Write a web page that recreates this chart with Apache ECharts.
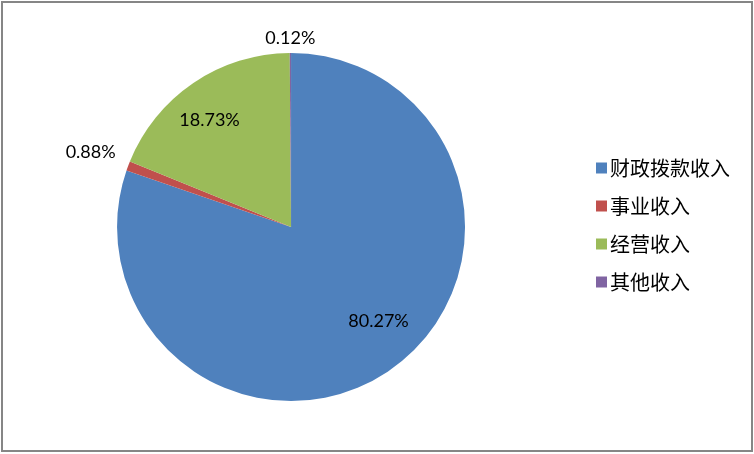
<!DOCTYPE html>
<html>
<head>
<meta charset="utf-8">
<script src="https://cdn.jsdelivr.net/npm/echarts@6/dist/echarts.min.js"></script>
<style>
html,body{margin:0;padding:0;background:#fff;}
#chart{position:absolute;left:0;top:0;width:754px;height:454px;}
#frame{position:absolute;left:1px;top:1px;width:748px;height:447px;border:2px solid #868686;pointer-events:none;}
</style>
</head>
<body>
<div id="chart"></div>
<div id="frame"></div>
<script>
const categories = ['财政拨款收入', '事业收入', '经营收入', '其他收入'];
const values = [80.27, 0.88, 18.73, 0.12];
const labels = ['80.27%', '0.88%', '18.73%', '0.12%'];
const colors = ['#4F81BD', '#C0504D', '#9BBB59', '#8064A2'];

const chart = echarts.init(document.getElementById('chart'));
const R = 174;
const place = [[0.74, -7.3], [1.23, 0], [0.77, -3.3], [1.086, 0]];

chart.setOption({
  animation: false,
  color: colors,
  legend: {
    orient: 'vertical',
    left: 591,
    top: 153,
    icon: 'rect',
    itemWidth: 11,
    itemHeight: 11,
    itemGap: 18,
    data: categories,
    textStyle: { fontFamily: 'Noto Sans CJK SC', fontSize: 20, lineHeight: 20, color: '#000', padding: [0, 0, 0, -2] }
  },
  series: [{
    type: 'pie',
    center: ['38.6%', '50%'],
    radius: [0, R],
    startAngle: 90,
    clockwise: true,
    label: {
      show: true,
      position: 'inside',
      fontFamily: 'Lato',
      fontSize: 18,
      color: '#000',
      formatter: p => labels[p.dataIndex]
    },
    labelLine: { show: false },
    labelLayout: function (params) {
      const pcx = chart.getWidth() * 0.386, pcy = chart.getHeight() * 0.5;
      const r = params.labelRect;
      const lx = r.x + r.width / 2, ly = r.y + r.height / 2;
      const pl = place[params.dataIndex];
      const a = Math.atan2(ly - pcy, lx - pcx) + pl[1] * Math.PI / 180;
      const d = pl[0] * R;
      return { x: pcx + d * Math.cos(a), y: pcy + d * Math.sin(a), align: 'center', verticalAlign: 'middle' };
    },
    emphasis: { disabled: true },
    data: categories.map((c, i) => ({ name: c, value: values[i] }))
  }]
});
</script>
</body>
</html>
